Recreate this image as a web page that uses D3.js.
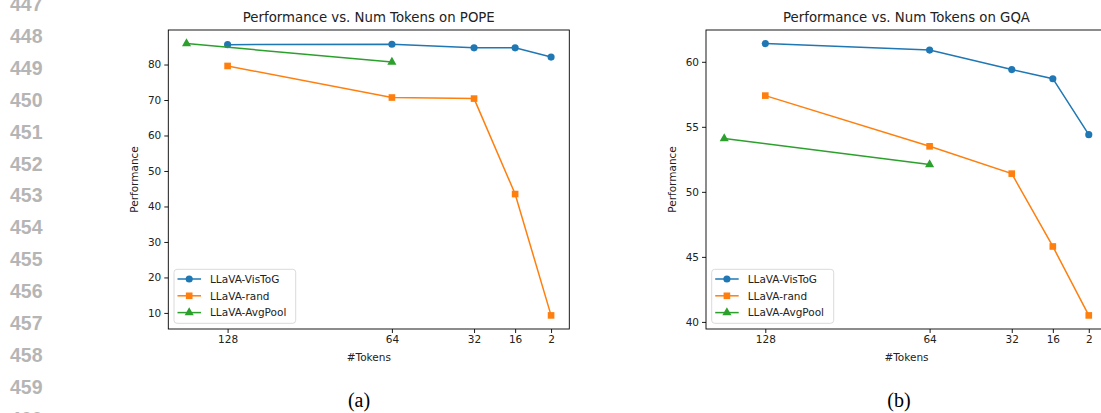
<!DOCTYPE html>
<html>
<head>
<meta charset="utf-8">
<script src="https://cdn.jsdelivr.net/npm/d3@7"></script>
<style>
  html, body { margin: 0; padding: 0; background: #fff; }
  svg { display: block; }
  .tick text { font-family: "DejaVu Sans", sans-serif; font-size: 10.5px; fill: #222; }
</style>
</head>
<body>
<div id="vis"></div>
<script>
'use strict';

// x values (number of visual tokens)
var tokens = [128, 64, 32, 16, 2];
var avgTokens = [144, 64];
var xTicks = [128, 64, 32, 16, 2];

// POPE
var popeVisToG = [85.6, 85.7, 84.7, 84.7, 82.1];
var popeRand = [79.6, 70.7, 70.4, 43.5, 9.3];
var popeAvgPool = [85.9, 80.7];
var popeTicks = [10, 20, 30, 40, 50, 60, 70, 80];

// GQA
var gqaVisToG = [61.4, 60.9, 59.4, 58.7, 54.4];
var gqaRand = [57.4, 53.5, 51.4, 45.8, 40.5];
var gqaAvgPool = [54.1, 52.1];
var gqaTicks = [40, 45, 50, 55, 60];

var seriesNames = ['LLaVA-VisToG', 'LLaVA-rand', 'LLaVA-AvgPool'];
var colors = ['#1f77b4', '#ff7f0e', '#2ca02c'];
var shapes = [d3.symbolCircle, d3.symbolSquare, d3.symbolTriangle];
var symSizes = [40, 44, 36];

var lineNumbers = d3.range(447, 461);

var W = 1101, H = 413;
var svg = d3.select('#vis').append('svg')
    .attr('width', W)
    .attr('height', H);
svg.append('rect').attr('width', W).attr('height', H).attr('fill', '#fff');

// page line numbers on the left (first and last are cut by the page edge, as in the source)
svg.append('g').selectAll('text')
    .data(lineNumbers)
    .enter().append('text')
    .attr('x', 10)
    .attr('y', function (d, i) { return 4 + i * 31.9 + 7; })
    .attr('font-family', '"Liberation Sans", Arial, sans-serif')
    .attr('font-weight', 'bold')
    .attr('font-size', 19.5)
    .attr('fill', '#b5b5b5')
    .text(function (d) { return d; });

// pad extent by 5% like matplotlib autoscale
function padded(vals) {
    var ext = d3.extent(vals);
    var m = (ext[1] - ext[0]) * 0.05;
    return [ext[0] - m, ext[1] + m];
}

function drawPanel(cfg) {
    var g = svg.append('g');
    var allX = tokens.concat(avgTokens);
    var xd = padded(allX);
    var x = d3.scaleLinear().domain([xd[1], xd[0]]).range([cfg.left, cfg.left + 401]);
    var y = d3.scaleLinear()
        .domain(padded(cfg.series[0].concat(cfg.series[1], cfg.series[2])))
        .range([329, 30]);

    var xAxis = g.append('g')
        .attr('transform', 'translate(0,329)')
        .call(d3.axisBottom(x).tickValues(xTicks).tickSize(4).tickPadding(3).tickFormat(d3.format('d')));
    xAxis.select('.domain').remove();
    xAxis.selectAll('.tick line').attr('stroke', '#000').attr('stroke-width', 0.9);

    var yAxis = g.append('g')
        .attr('transform', 'translate(' + cfg.left + ',0)')
        .call(d3.axisLeft(y).tickValues(cfg.ticks).tickSize(4).tickPadding(3).tickFormat(d3.format('d')));
    yAxis.select('.domain').remove();
    yAxis.selectAll('.tick line').attr('stroke', '#000').attr('stroke-width', 0.9);

    // spines
    g.append('rect')
        .attr('x', cfg.left)
        .attr('y', 30)
        .attr('width', 401)
        .attr('height', 299)
        .attr('fill', 'none')
        .attr('stroke', '#000')
        .attr('stroke-width', 0.9);

    var line = d3.line()
        .x(function (d) { return x(d[0]); })
        .y(function (d) { return y(d[1]); });

    cfg.series.forEach(function (vals, i) {
        var xs = i === 2 ? avgTokens : tokens;
        var pts = vals.map(function (v, j) { return [xs[j], v]; });
        g.append('path')
            .datum(pts)
            .attr('d', line)
            .attr('fill', 'none')
            .attr('stroke', colors[i])
            .attr('stroke-width', 1.5);
        g.selectAll('.m' + i)
            .data(pts)
            .enter().append('path')
            .attr('transform', function (d) { return 'translate(' + x(d[0]) + ',' + y(d[1]) + ')'; })
            .attr('d', d3.symbol().type(shapes[i]).size(symSizes[i]))
            .attr('fill', colors[i]);
    });

    // title and axis labels
    g.append('text')
        .attr('x', cfg.left + 200.5)
        .attr('y', 22)
        .attr('text-anchor', 'middle')
        .attr('font-family', '"DejaVu Sans", sans-serif')
        .attr('font-size', 13.3)
        .attr('fill', '#222')
        .text(cfg.title);

    g.append('text')
        .attr('x', cfg.left + 200.5)
        .attr('y', 361)
        .attr('text-anchor', 'middle')
        .attr('font-family', '"DejaVu Sans", sans-serif')
        .attr('font-size', 10.5)
        .attr('fill', '#222')
        .text('#Tokens');

    g.append('text')
        .attr('transform', 'translate(' + (cfg.left - 30.5) + ',179.5) rotate(-90)')
        .attr('text-anchor', 'middle')
        .attr('font-family', '"DejaVu Sans", sans-serif')
        .attr('font-size', 10.5)
        .attr('fill', '#222')
        .text('Performance');

    // legend
    var lg = g.append('g').attr('transform', 'translate(' + (cfg.left + 5.7) + ',269.3)');
    lg.append('rect')
        .attr('width', cfg.legendW)
        .attr('height', 54)
        .attr('rx', 3)
        .attr('fill', '#fff')
        .attr('fill-opacity', 0.8)
        .attr('stroke', '#d6d6d6')
        .attr('stroke-width', 0.9);
    var item = lg.selectAll('.item')
        .data(seriesNames)
        .enter().append('g')
        .attr('transform', function (d, i) { return 'translate(0,' + (9.7 + i * 16.8) + ')'; });
    item.append('line')
        .attr('x1', 3.5).attr('x2', 27)
        .attr('stroke', function (d, i) { return colors[i]; })
        .attr('stroke-width', 1.5);
    item.append('path')
        .attr('transform', 'translate(15.2,0)')
        .attr('d', function (d, i) { return d3.symbol().type(shapes[i]).size(symSizes[i])(); })
        .attr('fill', function (d, i) { return colors[i]; });
    item.append('text')
        .attr('x', 36)
        .attr('y', 3.8)
        .attr('font-family', '"DejaVu Sans", sans-serif')
        .attr('font-size', 10.5)
        .attr('fill', '#222')
        .text(function (d) { return d; });

    // sub-figure caption
    g.append('text')
        .attr('x', cfg.captionX)
        .attr('y', 407)
        .attr('text-anchor', 'middle')
        .attr('font-family', '"Liberation Serif", "Times New Roman", serif')
        .attr('font-size', 20)
        .attr('fill', '#000')
        .text(cfg.caption);
}

drawPanel({
    left: 168.3,
    title: 'Performance vs. Num Tokens on POPE',
    series: [popeVisToG, popeRand, popeAvgPool],
    ticks: popeTicks,
    legendW: 121.7,
    caption: '(a)',
    captionX: 359
});

drawPanel({
    left: 706,
    title: 'Performance vs. Num Tokens on GQA',
    series: [gqaVisToG, gqaRand, gqaAvgPool],
    ticks: gqaTicks,
    legendW: 122,
    caption: '(b)',
    captionX: 899
});
</script>
</body>
</html>
